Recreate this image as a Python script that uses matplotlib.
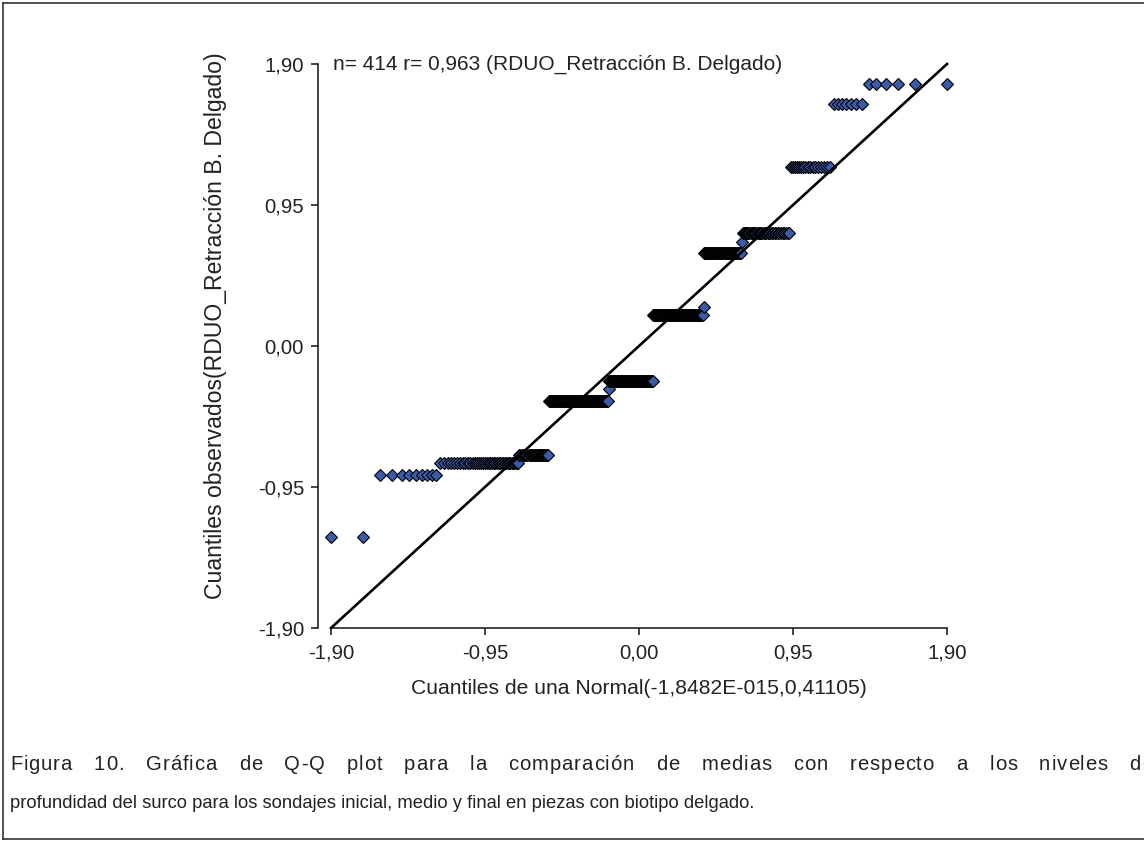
from statistics import NormalDist
import numpy as np
import matplotlib.pyplot as plt

plt.rcParams['font.family'] = ['Liberation Sans', 'DejaVu Sans']

# valores observados (residuos) y cuantas observaciones hay en cada nivel
niveles = [-1.287, -0.869, -0.788, -0.734, -0.371, -0.290, -0.236, 0.209,
           0.263, 0.627, 0.700, 0.761, 1.206, 1.631, 1.765]
conteos = [2, 9, 40, 28, 80, 1, 69, 74, 1, 43, 1, 36, 17, 7, 6]
media = -1.8482e-15
varianza = 0.41105
r_pearson = '0,963'

ticks = [-1.90, -0.95, 0.00, 0.95, 1.90]
tick_labels = ['-1,90', '-0,95', '0,00', '0,95', '1,90']

observados = np.repeat(niveles, conteos)
n = len(observados)

# cuantiles teoricos de la normal (posiciones de Blom)
normal = NormalDist(media, varianza ** 0.5)
teoricos = np.array([normal.inv_cdf((i - 0.375) / (n + 0.25)) for i in range(1, n + 1)])

W, H = 1144, 843
fig = plt.figure(figsize=(W / 100, H / 100), dpi=100)


def fx(x):
    return x / W


def fy(y):
    return 1 - y / H


ax = fig.add_axes([fx(331), fy(628), fx(947) - fx(331), fy(64) - fy(628)])
ax.plot(teoricos, observados, linestyle='none', marker='D', markersize=6.2,
        markerfacecolor='#3b5ba9', markeredgecolor='black', markeredgewidth=0.8,
        clip_on=False, zorder=3)
ax.plot([-1.90, 1.90], [-1.90, 1.90], color='black', linewidth=1.9, zorder=4,
        clip_on=False)

ax.set_xlim(-1.90, 1.90)
ax.set_ylim(-1.90, 1.90)
ax.set_xticks(ticks)
ax.set_xticklabels(tick_labels)
ax.set_yticks(ticks)
ax.set_yticklabels(tick_labels)

for s in ['top', 'right']:
    ax.spines[s].set_visible(False)
for s in ['left', 'bottom']:
    ax.spines[s].set_linewidth(1.1)
    ax.spines[s].set_color('#111111')
ax.spines['left'].set_position(('outward', 9.4))
ax.tick_params(axis='both', direction='out', length=5, width=1.1, color='#111111',
               labelsize=14.6, labelcolor='#222222')
ax.tick_params(axis='x', pad=6)
ax.tick_params(axis='y', pad=5)

ax.text(0.003, 1.0, 'n= %d r= %s (RDUO_Retracción B. Delgado)' % (n, r_pearson),
        transform=ax.transAxes, ha='left', va='center', fontsize=15,
        color='#222222')

fig.text(fx(639), fy(688), 'Cuantiles de una Normal(-1,8482E-015,0,41105)',
         ha='center', va='center', fontsize=15.2, color='#222222')
fig.text(fx(216), fy(326), 'Cuantiles observados(RDUO_Retracción B. Delgado)',
         ha='center', va='center', rotation=90, fontsize=16.6, color='#222222')

# marco de la figura
fig.add_artist(plt.Line2D([fx(3), fx(3)], [fy(3), fy(839)], color='#333333', lw=1.2))
fig.add_artist(plt.Line2D([fx(3), fx(1144)], [fy(3), fy(3)], color='#333333', lw=1.2))
fig.add_artist(plt.Line2D([fx(3), fx(1144)], [fy(839), fy(839)], color='#333333', lw=1.2))

# pie de figura; la primera linea va justificada hasta el borde derecho
linea1 = ('Figura 10. Gráfica de Q-Q plot para la comparación de medias '
          'con respecto a los niveles de')
linea2 = ('profundidad del surco para los sondajes inicial, medio y final '
          'en piezas con biotipo delgado.')
tam_pie1 = 14.6
tam_pie2 = 13.2
renderer = fig.canvas.get_renderer()
medidor = fig.text(0, 0, '|', fontsize=tam_pie1)
ancho_barra = medidor.get_window_extent(renderer).width


def ancho(s):
    medidor.set_text(s + '|')
    return medidor.get_window_extent(renderer).width - ancho_barra


prefijos = [ancho(linea1[:i]) for i in range(len(linea1))]
x0, x1 = 10, 1153
letra = 0.9
n_espacios = linea1.count(' ')
extra = (x1 - x0 - ancho(linea1) - letra * (len(linea1) - 1)) / n_espacios
medidor.remove()
espacios = 0
for i, c in enumerate(linea1):
    if c == ' ':
        espacios += 1
        continue
    fig.text(fx(x0 + prefijos[i] + i * letra + espacios * extra), fy(764), c,
             ha='left', va='center', fontsize=tam_pie1, color='#222222')
fig.text(fx(10), fy(804), linea2, ha='left', va='center', fontsize=tam_pie2,
         color='#222222')

fig.savefig('out.png', dpi=100)
